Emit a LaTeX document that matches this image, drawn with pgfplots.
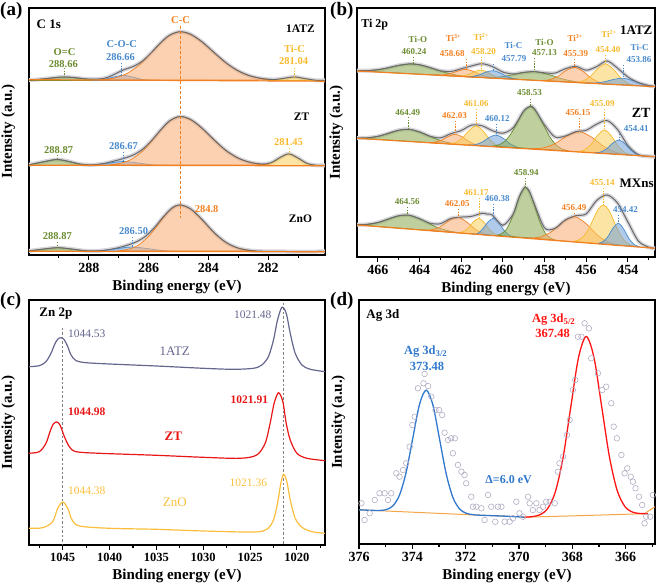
\documentclass[border=0pt]{standalone}
\usepackage{pgfplots}
\pgfplotsset{compat=1.18}
\usepackage{fontspec}
\setmainfont{Liberation Serif}
\definecolor{cOr}{RGB}{243,128,32}
\definecolor{cOrF}{RGB}{248,172,115}
\definecolor{cGr}{RGB}{108,140,48}
\definecolor{cGrF}{RGB}{138,170,78}
\definecolor{cBl}{RGB}{72,138,205}
\definecolor{cBlF}{RGB}{110,160,215}
\definecolor{cYe}{RGB}{247,186,46}
\definecolor{cYeF}{RGB}{250,205,90}
\definecolor{cEnv}{RGB}{105,105,105}
\definecolor{cHalo}{RGB}{214,214,220}
\definecolor{cSl}{RGB}{100,102,142}
\definecolor{cRd}{RGB}{232,22,22}
\definecolor{cZn}{RGB}{250,190,60}
\definecolor{cAgB}{RGB}{48,120,205}
\definecolor{cAgR}{RGB}{255,20,20}
\definecolor{cBase}{RGB}{245,165,70}
\definecolor{cCirc}{RGB}{178,172,195}
\tikzset{
 cmp/.style 2 args={smooth, line width=0.7pt, draw=#1, fill=#2, fill opacity=0.55},
 env/.style={smooth, line width=1pt, draw=cEnv},
 halo/.style={smooth, line width=4pt, draw=cHalo},
 base/.style={line width=1.2pt, draw=cOr},
 mk/.style={line width=0.6pt, dash pattern=on 1.5pt off 1.2pt},
 lb/.style={font=\bfseries\fontsize{10.5}{12}\selectfont, inner sep=0pt},
 lbb/.style={font=\bfseries\fontsize{9}{10}\selectfont, inner sep=0pt},
}
\pgfplotsset{
 panel/.style={scale only axis, anchor=south west,
  axis line style={line width=1.8pt},
  tick align=outside, xtick pos=bottom, ytick=\empty,
  major tick length=5pt, minor tick length=3pt,
  every tick/.style={black, line width=1.1pt},
  x dir=reverse,
  xlabel={Binding energy (eV)}, ylabel={Intensity (a.u.)},
  label style={font=\bfseries\fontsize{15}{17}\selectfont},
  tick label style={font=\bfseries\fontsize{14}{16}\selectfont},
  /pgf/number format/assume math mode=true,
  /pgf/number format/1000 sep={},
  ylabel style={at={(axis description cs:-0.035,0.5)}, anchor=south},
 }
}
\begin{document}
\begin{tikzpicture}
\path[use as bounding box] (0pt,0pt) rectangle (661pt,585pt);
\node[anchor=north west, inner sep=0pt, font=\bfseries\fontsize{19}{21}\selectfont] at (0pt,583pt) {(a)};
\node[anchor=north west, inner sep=0pt, font=\bfseries\fontsize{19}{21}\selectfont] at (330pt,583pt) {(b)};
\node[anchor=north west, inner sep=0pt, font=\bfseries\fontsize{19}{21}\selectfont] at (0pt,293pt) {(c)};
\node[anchor=north west, inner sep=0pt, font=\bfseries\fontsize{19}{21}\selectfont] at (330pt,293pt) {(d)};

% ================= (a) C 1s =================
\begin{axis}[panel, at={(29pt,330pt)}, width=296pt, height=247pt,
 xmin=280.1, xmax=290, ymin=-1, ymax=246,
 xtick={282,284,286,288}, minor xtick={281,283,285,287,289}]
% halos
\addplot[halo] coordinates {(280.1,173.5)(280.4,173.7)(280.8,175.48)(281.12,177.1)(281.4,175.99)(281.8,174.46)(282.2,175.41)(282.6,178.07)(283.0,183.06)(283.4,190.93)(283.8,201.19)(284.2,211.86)(284.6,219.81)(284.95,222.3)(285.3,218.74)(285.6,211.09)(285.9,201.58)(286.2,193.02)(286.5,187.72)(286.85,183.96)(287.2,178.84)(287.5,175.51)(288.0,174.86)(288.5,176.49)(288.81,177.0)(289.0,176.8)(289.5,175.09)(290.0,173.84)};
\addplot[halo] coordinates {(280.1,88.5)(280.4,88.76)(280.7,90.58)(281.0,95.9)(281.31,100.1)(281.6,96.5)(281.9,91.29)(282.2,89.92)(282.6,91.59)(283.0,95.81)(283.4,103.24)(283.8,113.79)(284.2,125.49)(284.6,134.6)(284.95,137.5)(285.3,133.04)(285.6,123.91)(285.9,113.39)(286.2,104.72)(286.5,99.17)(286.8,95.88)(287.1,93.31)(287.5,90.47)(287.9,89.17)(288.3,89.95)(288.7,92.78)(289.07,94.5)(289.5,92.3)(290.0,89.21)};
\addplot[halo] coordinates {(280.1,2.5)(281.5,2.5)(282.2,2.75)(282.6,3.52)(283.0,5.84)(283.4,11.32)(283.8,21.12)(284.2,34.02)(284.6,45.23)(284.95,49.07)(285.2,46.35)(285.5,37.37)(285.8,26.52)(286.1,17.77)(286.4,12.27)(286.7,8.87)(287.0,6.36)(287.4,3.98)(287.8,3.01)(288.2,3.48)(288.6,5.08)(289.04,6.3)(289.5,4.99)(290.0,3.10)};
% 1ATZ components
\addplot[cmp={cGr}{cGrF}] coordinates {(287.16,173.54)(287.71,173.97)(288.26,175.62)(288.81,177.00)(289.36,175.62)(289.91,173.97)(290.46,173.54)} -- cycle;
\addplot[cmp={cBl}{cBlF}] coordinates {(285.80,173.56)(286.15,174.20)(286.50,176.65)(286.85,178.70)(287.20,176.65)(287.55,174.20)(287.90,173.56)} -- cycle;
\addplot[cmp={cYe}{cYeF}] coordinates {(280.22,173.54)(280.52,173.97)(280.82,175.62)(281.12,177.00)(281.42,175.62)(281.72,173.97)(282.02,173.54)} -- cycle;
\addplot[cmp={cOr}{cOrF}] coordinates {(281.71,174.04)(282.25,175.64)(282.79,180.10)(283.33,189.35)(283.87,203.10)(284.41,216.57)(284.95,222.30)(285.40,216.57)(285.85,203.10)(286.30,189.35)(286.75,180.10)(287.20,175.64)(287.65,174.04)} -- cycle;
% ZT components
\addplot[cmp={cGr}{cGrF}] coordinates {(287.72,88.57)(288.17,89.31)(288.62,92.14)(289.07,94.5)(289.52,92.14)(289.97,89.31)(290.42,88.57)} -- cycle;
\addplot[cmp={cBl}{cBlF}] coordinates {(285.34,88.54)(285.84,89.04)(286.34,90.93)(286.84,92.5)(287.34,90.93)(287.84,89.04)(288.34,88.54)} -- cycle;
\addplot[cmp={cYe}{cYeF}] coordinates {(280.32,88.63)(280.485,89.0)(280.65,90.06)(280.815,92.23)(280.98,95.47)(281.145,98.65)(281.31,100.0)(281.475,98.65)(281.64,95.47)(281.805,92.23)(281.97,90.06)(282.135,89.0)(282.30,88.63)} -- cycle;
\addplot[cmp={cOr}{cOrF}] coordinates {(281.95,89.04)(282.45,90.65)(282.95,95.13)(283.45,104.41)(283.95,118.22)(284.45,131.74)(284.95,137.5)(285.35,131.74)(285.75,118.22)(286.15,104.41)(286.55,95.13)(286.95,90.65)(287.35,89.04)} -- cycle;
% ZnO components
\addplot[cmp={cGr}{cGrF}] coordinates {(287.54,2.54)(288.04,3.01)(288.54,4.80)(289.04,6.3)(289.54,4.80)(290.04,3.01)(290.54,2.54)} -- cycle;
\addplot[cmp={cBl}{cBlF}] coordinates {(284.9,2.55)(285.45,3.11)(286.0,5.23)(286.55,7.0)(287.1,5.23)(287.65,3.11)(288.2,2.55)} -- cycle;
\addplot[cmp={cOr}{cOrF}] coordinates {(282.40,3.02)(282.825,4.54)(283.25,8.79)(283.675,17.60)(284.10,30.70)(284.525,43.54)(284.95,49.0)(285.30,43.54)(285.65,30.70)(286.00,17.60)(286.35,8.79)(286.70,4.54)(287.05,3.02)} -- cycle;
% envelopes
\addplot[env] coordinates {(280.1,173.5)(280.4,173.7)(280.8,175.48)(281.12,177.1)(281.4,175.99)(281.8,174.46)(282.2,175.41)(282.6,178.07)(283.0,183.06)(283.4,190.93)(283.8,201.19)(284.2,211.86)(284.6,219.81)(284.95,222.3)(285.3,218.74)(285.6,211.09)(285.9,201.58)(286.2,193.02)(286.5,187.72)(286.85,183.96)(287.2,178.84)(287.5,175.51)(288.0,174.86)(288.5,176.49)(288.81,177.0)(289.0,176.8)(289.5,175.09)(290.0,173.84)};
\addplot[env] coordinates {(280.1,88.5)(280.4,88.76)(280.7,90.58)(281.0,95.9)(281.31,100.1)(281.6,96.5)(281.9,91.29)(282.2,89.92)(282.6,91.59)(283.0,95.81)(283.4,103.24)(283.8,113.79)(284.2,125.49)(284.6,134.6)(284.95,137.5)(285.3,133.04)(285.6,123.91)(285.9,113.39)(286.2,104.72)(286.5,99.17)(286.8,95.88)(287.1,93.31)(287.5,90.47)(287.9,89.17)(288.3,89.95)(288.7,92.78)(289.07,94.5)(289.5,92.3)(290.0,89.21)};
\addplot[env] coordinates {(280.1,2.5)(281.5,2.5)(282.2,2.75)(282.6,3.52)(283.0,5.84)(283.4,11.32)(283.8,21.12)(284.2,34.02)(284.6,45.23)(284.95,49.07)(285.2,46.35)(285.5,37.37)(285.8,26.52)(286.1,17.77)(286.4,12.27)(286.7,8.87)(287.0,6.36)(287.4,3.98)(287.8,3.01)(288.2,3.48)(288.6,5.08)(289.04,6.3)(289.5,4.99)(290.0,3.10)};
% baselines
\addplot[base] coordinates {(280.1,172.8)(290,174.3)};
\addplot[base] coordinates {(280.1,88.2)(290,88.8)};
\addplot[base] coordinates {(280.1,2.3)(290,2.7)};
% markers
\addplot[cOr, line width=0.9pt, dash pattern=on 3pt off 2pt] coordinates {(284.95,228)(284.95,36)};
\addplot[mk, cGr] coordinates {(288.81,186)(288.81,178)};
\addplot[mk, cBl] coordinates {(286.9,191)(286.9,179)};
\addplot[mk, cYe] coordinates {(281.12,186)(281.12,177)};
\addplot[mk, cGr] coordinates {(289.07,99)(289.07,94.5)};
\addplot[mk, cBl] coordinates {(286.84,102)(286.84,93)};
\addplot[mk, cYe] coordinates {(281.31,106)(281.31,100)};
\addplot[mk, cBl] coordinates {(286.55,17)(286.55,7)};
\addplot[mk, cGr] coordinates {(289.04,12)(289.04,6.3)};
% labels
\node[anchor=west, inner sep=0pt, font=\bfseries\fontsize{13}{15}\selectfont] at (axis cs:289.75,230) {C 1s};
\node[lb, font=\bfseries\fontsize{11.5}{13}\selectfont] at (axis cs:280.92,225) {1ATZ};
\node[lb, font=\bfseries\fontsize{11.5}{13}\selectfont] at (axis cs:280.88,137) {ZT};
\node[lb, font=\bfseries\fontsize{11.5}{13}\selectfont] at (axis cs:280.92,35) {ZnO};
\node[lb, text=cOr] at (axis cs:284.93,234) {C-C};
\node[lb, text=cGr] at (axis cs:288.81,202) {O=C};
\node[lb, text=cGr] at (axis cs:288.85,190) {288.66};
\node[lb, text=cBl] at (axis cs:286.9,210) {C-O-C};
\node[lb, text=cBl] at (axis cs:286.94,197) {286.66};
\node[lb, text=cYe] at (axis cs:281.12,205) {Ti-C};
\node[lb, text=cYe] at (axis cs:281.15,193) {281.04};
\node[lb, text=cGr] at (axis cs:289.01,104) {288.87};
\node[lb, text=cBl] at (axis cs:286.84,108) {286.67};
\node[lb, text=cYe] at (axis cs:281.32,112) {281.45};
\node[lb, text=cOr] at (axis cs:284.06,45) {284.8};
\node[lb, text=cBl] at (axis cs:286.50,23) {286.50};
\node[lb, text=cGr] at (axis cs:289.05,18) {288.87};
\end{axis}

% ================= (b) Ti 2p =================
\begin{axis}[panel, at={(357pt,328pt)}, width=298pt, height=249pt,
 xmin=452.7, xmax=467, ymin=1, ymax=250,
 xtick={454,456,...,466}, minor xtick={453,455,...,465}]
\addplot[halo] coordinates {(452.7,171.55)(453,172.42)(453.5,175.46)(454,180.94)(454.5,189.87)(455,197.0)(455.5,191.36)(456,187.76)(456.5,191.59)(457,189.23)(457.5,184.88)(458,185.16)(458.5,186.40)(459,185.61)(459.5,184.05)(460,185.93)(460.5,191.40)(461,194.26)(461.5,192.08)(462,189.23)(462.5,186.51)(463,187.25)(463.5,190.42)(464,193.27)(464.5,194.06)(465,192.64)(465.5,190.22)(466,188.26)(466.5,187.34)(467,187.26)};
\addplot[halo] coordinates {(452.7,101.3)(453,101.71)(453.5,103.34)(454,112.48)(454.5,128.56)(455,137.48)(455.5,133.82)(456,127.78)(456.5,126.27)(457,122.01)(457.5,121.02)(458,133.14)(458.5,149.63)(458.69,151.56)(459,146.97)(459.5,130.34)(460,124.83)(460.5,127.31)(461,132.21)(461.5,132.87)(462,127.42)(462.5,124.24)(463,120.15)(463.5,121.78)(464,126.10)(464.5,128.69)(465,127.78)(465.5,124.59)(466,121.63)(466.5,120.17)(467,119.98)};
\addplot[halo] coordinates {(452.7,9.7)(453,10.8)(453.5,17)(454,36)(454.5,55)(455,63)(455.5,57.5)(456,44.13)(456.5,42.25)(457,38.06)(457.5,29.62)(458,30.08)(458.5,54.57)(458.75,67.59)(458.91,70.51)(459.0,69.69)(459.25,59.28)(459.5,44.19)(460,32.72)(460.5,42.86)(460.75,43.89)(461,44.76)(461.5,41.66)(462,40.88)(462.5,39.50)(463,34.27)(463.5,34.77)(464,39.32)(464.5,42.76)(465,42.27)(465.5,38.90)(466,35.45)(466.5,33.65)(467,33.40)};
% 1ATZ
\addplot[cmp={cGr}{cGrF}] coordinates {(461.3,180.86)(462.05,182.37)(462.8,185.64)(463.55,190.77)(464.3,194.04)(465.05,192.41)(465.8,188.94)(466.55,187.31)(467.3,187.44)} -- cycle;
\addplot[cmp={cGr}{cGrF}] coordinates {(455.78,174.79)(456.455,176.12)(457.13,178.99)(457.805,183.48)(458.48,186.35)(459.155,184.96)(459.83,181.95)(460.505,180.56)(461.18,180.71)} -- cycle;
\addplot[cmp={cOr}{cOrF}] coordinates {(460.26,179.68)(460.635,180.60)(461.01,182.83)(461.385,186.43)(461.76,188.65)(462.135,187.25)(462.51,184.47)(462.885,183.08)(463.26,182.98)} -- cycle;
\addplot[cmp={cYe}{cYeF}] coordinates {(459.84,179.22)(460.14,180.07)(460.44,182.24)(460.74,185.79)(461.04,187.96)(461.34,186.45)(461.64,183.56)(461.94,182.05)(462.24,181.86)} -- cycle;
\addplot[cmp={cBl}{cBlF}] coordinates {(459.13,178.44)(459.4675,179.33)(459.805,181.54)(460.1425,185.13)(460.48,187.34)(460.8175,185.87)(461.155,183.02)(461.4925,181.55)(461.83,181.40)} -- cycle;
\addplot[cmp={cOr}{cOrF}] coordinates {(454.91,173.90)(455.3225,175.38)(455.735,179.53)(456.1475,186.49)(456.56,190.64)(456.9725,187.39)(457.385,181.35)(457.7975,178.10)(458.21,177.52)} -- cycle;
\addplot[cmp={cYe}{cYeF}] coordinates {(453.57,172.47)(453.945,174.26)(454.32,179.61)(454.695,188.66)(455.07,194.0)(455.445,189.48)(455.82,181.25)(456.195,176.74)(456.57,175.77)} -- cycle;
\addplot[cmp={cBl}{cBlF}] coordinates {(452.44,171.08)(452.89,172.04)(453.34,174.18)(453.79,177.56)(454.24,179.69)(454.69,178.54)(455.14,176.16)(455.59,175.0)(456.04,175.04)} -- cycle;
% ZT
\addplot[cmp={cGr}{cGrF}] coordinates {(461.83,113.20)(462.505,114.89)(463.18,118.75)(463.855,124.87)(464.53,128.73)(465.205,126.61)(465.88,122.23)(466.555,120.11)(467.23,120.14)} -- cycle;
\addplot[cmp={cOr}{cOrF}] coordinates {(460.92,111.99)(461.2575,113.12)(461.595,116.03)(461.9325,120.81)(462.27,123.72)(462.6075,121.67)(462.945,117.77)(463.2825,115.72)(463.62,115.47)} -- cycle;
\addplot[cmp={cYe}{cYeF}] coordinates {(459.93,110.82)(460.2675,112.61)(460.605,117.87)(460.9425,126.78)(461.28,132.04)(461.6175,127.64)(461.955,119.61)(462.2925,115.21)(462.63,114.30)} -- cycle;
\addplot[cmp={cBl}{cBlF}] coordinates {(458.97,109.50)(459.3075,110.76)(459.645,114.10)(459.9825,119.66)(460.32,123.01)(460.6575,120.52)(460.995,115.84)(461.3325,113.36)(461.67,112.98)} -- cycle;
\addplot[cmp={cGr}{cGrF}] coordinates {(456.83,107.09)(457.14,108.88)(457.45,113.13)(457.76,121.54)(458.07,133.86)(458.38,145.94)(458.69,151.31)(459.00,146.74)(459.31,135.46)(459.62,123.94)(459.93,116.33)(460.24,112.86)(460.55,111.87)} -- cycle;
\addplot[cmp={cOr}{cOrF}] coordinates {(453.92,103.10)(454.52,105.26)(455.12,111.01)(455.72,120.51)(456.32,126.26)(456.92,122.05)(457.52,114.09)(458.12,109.90)(458.72,109.28)} -- cycle;
\addplot[cmp={cYe}{cYeF}] coordinates {(453.77,102.93)(454.1075,104.99)(454.445,111.20)(454.7825,121.79)(455.12,128.01)(455.4575,122.65)(455.795,112.94)(456.1325,107.59)(456.47,106.41)} -- cycle;
\addplot[cmp={cBl}{cBlF}] coordinates {(453.23,102.15)(453.53,103.52)(453.83,107.47)(454.13,114.08)(454.43,118.03)(454.73,114.86)(455.03,109.01)(455.33,105.84)(455.63,105.23)} -- cycle;
% MXns
\addplot[cmp={cGr}{cGrF}] coordinates {(461.89,24.83)(462.565,26.89)(463.24,31.39)(463.915,38.47)(464.59,42.98)(465.265,40.67)(465.94,35.79)(466.615,33.49)(467.29,33.63)} -- cycle;
\addplot[cmp={cOr}{cOrF}] coordinates {(460.51,22.60)(460.9225,24.34)(461.335,28.85)(461.7475,36.22)(462.16,40.72)(462.5725,37.56)(462.985,31.53)(463.3975,28.38)(463.81,27.98)} -- cycle;
\addplot[cmp={cYe}{cYeF}] coordinates {(460.10,21.94)(460.3625,23.48)(460.625,27.87)(460.8875,35.27)(461.15,39.67)(461.4125,36.13)(461.675,29.59)(461.9375,26.04)(462.20,25.36)} -- cycle;
\addplot[cmp={cBl}{cBlF}] coordinates {(459.40,20.81)(459.6625,22.44)(459.925,27.12)(460.1875,35.03)(460.45,39.73)(460.7125,35.89)(460.975,28.84)(461.2375,24.0)(461.50,24.23)} -- cycle;
\addplot[cmp={cGr}{cGrF}] coordinates {(457.50,18.08)(457.735,20.12)(457.97,25.12)(458.205,35.07)(458.44,49.68)(458.675,64.01)(458.91,70.32)(459.145,64.77)(459.38,51.22)(459.615,37.37)(459.85,28.18)(460.085,23.96)(460.32,22.68)} -- cycle;
\addplot[cmp={cOr}{cOrF}] coordinates {(454.31,12.60)(454.8725,15.25)(455.435,22.37)(455.9975,34.17)(456.56,41.29)(457.1225,36.01)(457.685,26.03)(458.2475,20.75)(458.81,19.94)} -- cycle;
\addplot[cmp={cYe}{cYeF}] coordinates {(453.67,11.72)(453.92,13.42)(454.17,17.42)(454.42,25.27)(454.67,36.75)(454.92,48.0)(455.17,53.03)(455.42,48.82)(455.67,38.39)(455.92,27.71)(456.17,20.68)(456.42,17.50)(456.67,16.62)} -- cycle;
\addplot[cmp={cBl}{cBlF}] coordinates {(453.41,11.11)(453.6725,13.05)(453.935,18.89)(454.1975,28.82)(454.46,34.67)(454.7225,29.68)(454.985,20.61)(455.2475,15.61)(455.51,14.53)} -- cycle;
% envelopes
\addplot[env] coordinates {(452.7,171.55)(453,172.42)(453.5,175.46)(454,180.94)(454.5,189.87)(455,197.0)(455.5,191.36)(456,187.76)(456.5,191.59)(457,189.23)(457.5,184.88)(458,185.16)(458.5,186.40)(459,185.61)(459.5,184.05)(460,185.93)(460.5,191.40)(461,194.26)(461.5,192.08)(462,189.23)(462.5,186.51)(463,187.25)(463.5,190.42)(464,193.27)(464.5,194.06)(465,192.64)(465.5,190.22)(466,188.26)(466.5,187.34)(467,187.26)};
\addplot[env] coordinates {(452.7,101.3)(453,101.71)(453.5,103.34)(454,112.48)(454.5,128.56)(455,137.48)(455.5,133.82)(456,127.78)(456.5,126.27)(457,122.01)(457.5,121.02)(458,133.14)(458.5,149.63)(458.69,151.56)(459,146.97)(459.5,130.34)(460,124.83)(460.5,127.31)(461,132.21)(461.5,132.87)(462,127.42)(462.5,124.24)(463,120.15)(463.5,121.78)(464,126.10)(464.5,128.69)(465,127.78)(465.5,124.59)(466,121.63)(466.5,120.17)(467,119.98)};
\addplot[env] coordinates {(452.7,9.7)(453,10.8)(453.5,17)(454,36)(454.5,55)(455,63)(455.5,57.5)(456,44.13)(456.5,42.25)(457,38.06)(457.5,29.62)(458,30.08)(458.5,54.57)(458.75,67.59)(458.91,70.51)(459.0,69.69)(459.25,59.28)(459.5,44.19)(460,32.72)(460.5,42.86)(460.75,43.89)(461,44.76)(461.5,41.66)(462,40.88)(462.5,39.50)(463,34.27)(463.5,34.77)(464,39.32)(464.5,42.76)(465,42.27)(465.5,38.90)(466,35.45)(466.5,33.65)(467,33.40)};
\addplot[base] coordinates {(452.7,171.3)(467,187.0)};
\addplot[base] coordinates {(452.7,101.3)(467,119.7)};
\addplot[base] coordinates {(452.7,9.7)(467,33.0)};
% markers 1ATZ
\addplot[mk,cGr] coordinates {(464.3,201)(464.3,194)};
\addplot[mk,cOr] coordinates {(461.76,199)(461.76,188.7)};
\addplot[mk,cYe] coordinates {(461.04,201)(461.04,188)};
\addplot[mk,cBl] coordinates {(460.48,194)(460.48,187.3)};
\addplot[mk,cGr] coordinates {(458.48,200)(458.48,186.3)};
\addplot[mk,cOr] coordinates {(456.56,199)(456.56,190.7)};
\addplot[mk,cYe] coordinates {(455.07,203)(455.07,194)};
\addplot[mk,cBl] coordinates {(454.24,193)(454.24,179.7)};
% markers ZT
\addplot[mk,cGr] coordinates {(464.53,141)(464.53,128.7)};
\addplot[mk,cOr] coordinates {(462.27,137)(462.27,123.7)};
\addplot[mk,cYe] coordinates {(461.28,149)(461.28,132)};
\addplot[mk,cBl] coordinates {(460.32,134)(460.32,123)};
\addplot[mk,cGr] coordinates {(458.69,159)(458.69,151.3)};
\addplot[mk,cOr] coordinates {(456.32,140)(456.32,126.3)};
\addplot[mk,cYe] coordinates {(455.12,149)(455.12,128)};
\addplot[mk,cBl] coordinates {(454.43,124)(454.43,118)};
% markers MXns
\addplot[mk,cGr] coordinates {(464.59,51)(464.59,43)};
\addplot[mk,cOr] coordinates {(462.16,49)(462.16,40.7)};
\addplot[mk,cYe] coordinates {(461.15,60)(461.15,39.7)};
\addplot[mk,cBl] coordinates {(460.45,54)(460.45,39.7)};
\addplot[mk,cGr] coordinates {(458.91,80)(458.91,70.3)};
\addplot[mk,cOr] coordinates {(456.56,45)(456.56,41.3)};
\addplot[mk,cYe] coordinates {(455.17,70)(455.17,53)};
\addplot[mk,cBl] coordinates {(454.46,43)(454.46,34.7)};
% labels
\node[anchor=west, inner sep=0pt, font=\bfseries\fontsize{12}{14}\selectfont] at (axis cs:466.8,233) {Ti 2p};
\node[lb, font=\bfseries\fontsize{13}{15}\selectfont] at (axis cs:453.6,228) {1ATZ};
\node[lb, font=\bfseries\fontsize{14}{16}\selectfont] at (axis cs:453.36,144.7) {ZT};
\node[lb, font=\bfseries\fontsize{13}{15}\selectfont] at (axis cs:453.58,74.7) {MXns};
\node[lbb, text=cGr] at (axis cs:464.08,219) {Ti-O};
\node[lbb, text=cGr] at (axis cs:464.26,206) {460.24};
\node[lbb, text=cOr] at (axis cs:462.37,220) {Ti\textsuperscript{3+}};
\node[lbb, text=cOr] at (axis cs:462.43,204) {458.68};
\node[lbb, text=cYe] at (axis cs:461.04,221) {Ti\textsuperscript{2+}};
\node[lbb, text=cYe] at (axis cs:460.93,206) {458.20};
\node[lbb, text=cBl] at (axis cs:459.49,213) {Ti-C};
\node[lbb, text=cBl] at (axis cs:459.47,199) {457.79};
\node[lbb, text=cGr] at (axis cs:458.0,216) {Ti-O};
\node[lbb, text=cGr] at (axis cs:458.0,205) {457.13};
\node[lbb, text=cOr] at (axis cs:456.53,220) {Ti\textsuperscript{3+}};
\node[lbb, text=cOr] at (axis cs:456.5,204) {455.39};
\node[lbb, text=cYe] at (axis cs:454.91,224) {Ti\textsuperscript{2+}};
\node[lbb, text=cYe] at (axis cs:454.96,208) {454.40};
\node[lbb, text=cBl] at (axis cs:453.44,211) {Ti-C};
\node[lbb, text=cBl] at (axis cs:453.47,198) {453.86};
\node[lbb, text=cGr] at (axis cs:458.72,165) {458.53};
\node[lbb, text=cGr] at (axis cs:464.56,145.7) {464.49};
\node[lbb, text=cYe] at (axis cs:461.28,154) {461.06};
\node[lbb, text=cOr] at (axis cs:462.32,142) {462.03};
\node[lbb, text=cBl] at (axis cs:460.27,139.7) {460.12};
\node[lbb, text=cOr] at (axis cs:456.4,145.7) {456.15};
\node[lbb, text=cYe] at (axis cs:455.23,154.3) {455.09};
\node[lbb, text=cBl] at (axis cs:453.6,129.7) {454.41};
\node[lbb, text=cGr] at (axis cs:458.88,85.3) {458.94};
\node[lbb, text=cYe] at (axis cs:455.23,75.3) {455.14};
\node[lbb, text=cGr] at (axis cs:464.59,56.7) {464.56};
\node[lbb, text=cYe] at (axis cs:461.28,65.3) {461.17};
\node[lbb, text=cBl] at (axis cs:460.27,59.7) {460.38};
\node[lbb, text=cOr] at (axis cs:462.19,54.7) {462.05};
\node[lbb, text=cOr] at (axis cs:456.59,50.3) {456.49};
\node[lbb, text=cBl] at (axis cs:454.11,48) {454.42};
\end{axis}

% ================= (c) Zn 2p =================
\begin{axis}[panel, at={(29pt,40pt)}, width=296pt, height=245pt,
 xmin=1017, xmax=1048.6, ymin=0, ymax=245,
 xtick={1020,1025,...,1045}, minor xtick={1017.5,1022.5,...,1047.5},
 tick label style={font=\bfseries\fontsize{12.5}{14}\selectfont}]
\addplot[gray, line width=0.7pt, dash pattern=on 2.5pt off 2pt] coordinates {(1045.0,217)(1045.0,0)};
\addplot[gray, line width=0.7pt, dash pattern=on 2.5pt off 2pt] coordinates {(1021.43,242)(1021.43,0)};
\addplot[smooth, cSl, line width=1.2pt] coordinates {(1048.64,178.3)(1047.5,179.3)(1046.79,183.3)(1046.25,191.7)(1045.89,200)(1045.54,205.7)(1045.18,207.3)(1044.82,205)(1044.46,198.3)(1044.11,190)(1043.57,184.3)(1042.5,182.3)(1040,181)(1035,179)(1030,176.7)(1026.8,175.7)(1024.64,176.7)(1023.75,180)(1023.04,188.3)(1022.5,205)(1022.07,225)(1021.6,237.7)(1021.14,231.7)(1020.71,211.7)(1020.18,191.7)(1019.46,180)(1018.57,175.7)(1016.96,173.3)};
\addplot[smooth, cRd, line width=1.2pt] coordinates {(1048.64,91.7)(1047.5,93.3)(1046.79,101.7)(1046.36,113.3)(1046.0,121)(1045.64,123)(1045.29,120)(1044.82,108.3)(1044.29,98.3)(1043.57,93.3)(1041.07,91.7)(1035,89.7)(1030,87.7)(1026.07,86.7)(1024.29,90)(1023.39,101.7)(1022.86,121.7)(1022.43,141.7)(1021.96,152.3)(1021.5,143.3)(1021.14,121.7)(1020.71,105)(1020.0,91.7)(1018.93,86.7)(1016.96,84.3)};
\addplot[smooth, cZn, line width=1.2pt] coordinates {(1048.64,16.7)(1047.14,17.3)(1046.07,23.3)(1045.54,36.7)(1045.0,43)(1044.46,36.7)(1044.0,25)(1043.21,19)(1040,16.7)(1035,15.7)(1030,14)(1024.64,13)(1023.21,15.7)(1022.5,25)(1022.07,41.7)(1021.71,61.7)(1021.43,70.7)(1021.07,63.3)(1020.71,45)(1020.18,26.7)(1019.46,17.7)(1018.39,13.3)(1016.96,11.7)};
\node[anchor=west, inner sep=0pt, font=\bfseries\fontsize{13}{15}\selectfont] at (axis cs:1047.5,231.7) {Zn 2p};
\node[inner sep=0pt, text=cSl, font=\fontsize{11.5}{13}\selectfont] at (axis cs:1024.71,230) {1021.48};
\node[inner sep=0pt, text=cSl, font=\fontsize{11.5}{13}\selectfont] at (axis cs:1042.43,211.7) {1044.53};
\node[inner sep=0pt, text=cSl, font=\fontsize{13}{15}\selectfont] at (axis cs:1033.04,193.3) {1ATZ};
\node[inner sep=0pt, text=cRd, font=\bfseries\fontsize{11.5}{13}\selectfont] at (axis cs:1042.43,133.3) {1044.98};
\node[inner sep=0pt, text=cRd, font=\bfseries\fontsize{11.5}{13}\selectfont] at (axis cs:1025.07,145) {1021.91};
\node[inner sep=0pt, text=cRd, font=\bfseries\fontsize{13}{15}\selectfont] at (axis cs:1033.2,108.3) {ZT};
\node[inner sep=0pt, text=cZn, font=\fontsize{11.5}{13}\selectfont] at (axis cs:1042.43,54.3) {1044.38};
\node[inner sep=0pt, text=cZn, font=\fontsize{11.5}{13}\selectfont] at (axis cs:1025.18,62.3) {1021.36};
\node[inner sep=0pt, text=cZn, font=\fontsize{13}{15}\selectfont] at (axis cs:1033.04,42.3) {ZnO};
\end{axis}

% ================= (d) Ag 3d =================
\begin{axis}[panel, at={(359pt,41pt)}, width=296pt, height=244pt,
 xmin=364.9, xmax=376, ymin=-1, ymax=243,
 xtick={366,368,...,376}, minor xtick={365,367,...,375}]
\addplot[only marks, mark=o, mark size=2.8pt, mark options={line width=0.6pt}, color=cCirc] coordinates {
(375.91,39.7)(375.79,23)(375.6,29.7)(375.41,43)(375.23,49.7)(375.04,49.7)(374.91,43)(374.79,49.7)(374.6,69.7)(374.48,66.3)(374.35,73)(374.23,79.7)(374.1,96.3)(374.0,118)(373.91,126.3)(373.79,154.7)(373.58,159.7)(373.54,169)(373.41,157)(373.29,146.3)(373.13,133)(373.0,133)(372.88,128)(372.79,110.3)(372.66,103)(372.54,104.7)(372.41,104.7)(372.48,89.7)(372.29,78)(372.16,71.3)(372.04,68)(371.98,59.7)(371.79,46.3)(371.73,36.3)(371.6,36.3)(371.41,34.7)(371.29,23)(371.16,48)(371.04,36.3)(370.89,21.3)(370.79,36.3)(370.66,36.3)(370.54,21.3)(370.35,21.3)(370.23,24.7)(370.1,41.3)(369.98,29.7)(369.85,26.3)(369.66,46.3)(369.6,39.7)(369.48,33)(369.35,39.7)(369.23,33)(369.1,36.3)(368.98,41.3)(368.85,41.3)(368.66,39.7)(368.54,71.3)(368.48,79.7)(368.35,86.3)(368.2,108)(368.1,123)(367.98,153)(367.89,163)(367.79,206.3)(367.66,206.3)(367.54,219.7)(367.38,214.7)(367.29,184.7)(367.04,169.7)(366.88,153)(366.73,156.3)(366.54,139.7)(366.45,116.3)(366.33,104.7)(366.16,88)(366.04,69.7)(365.94,74.7)(365.81,66.3)(365.73,61.3)(365.63,54.7)(365.5,46.3)(365.38,38)(365.29,19.7)(365.23,26.3)(365.08,26.3)(364.98,48)};
\addplot[cBase, line width=1pt] coordinates {(376,33.2)(373.48,30.2)(371.5,27.8)(370,26.3)(369.8,25.8)(367.5,27.5)(365.3,29.3)(364.9,36.3)};
\addplot[smooth, cAgB, line width=1.3pt] coordinates {(376,33.2)(375.48,32.62)(375.23,32.55)(374.98,33.34)(374.73,37.07)(374.48,47.98)(374.23,70.92)(373.98,105.20)(373.73,138.76)(373.48,152.88)(373.23,138.16)(372.98,104.0)(372.73,69.12)(372.48,45.58)(372.23,34.07)(371.98,29.74)(371.73,28.35)(371.48,27.82)(370.5,26.8)(369.8,25.8)};
\addplot[smooth, cAgR, line width=1.3pt] coordinates {(369.80,25.78)(369.51,26.34)(369.22,28.17)(368.93,34.26)(368.64,50.84)(368.35,84.97)(368.06,135.63)(367.77,185.26)(367.48,206.52)(367.19,185.71)(366.90,136.52)(366.61,86.31)(366.32,52.63)(366.03,36.49)(365.74,30.85)(365.45,29.47)(365.16,29.35)};
\node[anchor=west, inner sep=0pt, font=\bfseries\fontsize{13}{15}\selectfont] at (axis cs:375.73,228) {Ag 3d};
\node[inner sep=0pt, text=cAgB, font=\bfseries\fontsize{12.5}{14}\selectfont] at (axis cs:373.5,191.3) {Ag 3d\textsubscript{3/2}};
\node[inner sep=0pt, text=cAgB, font=\bfseries\fontsize{12.5}{14}\selectfont] at (axis cs:373.45,176.3) {373.48};
\node[inner sep=0pt, text=cAgR, font=\bfseries\fontsize{12.5}{14}\selectfont] at (axis cs:368.7,223) {Ag 3d\textsubscript{5/2}};
\node[inner sep=0pt, text=cAgR, font=\bfseries\fontsize{12.5}{14}\selectfont] at (axis cs:368.74,209.7) {367.48};
\node[inner sep=0pt, text=cAgB, font=\bfseries\fontsize{12}{14}\selectfont] at (axis cs:370.39,63) {Δ=6.0 eV};
\end{axis}
\end{tikzpicture}
\end{document}
